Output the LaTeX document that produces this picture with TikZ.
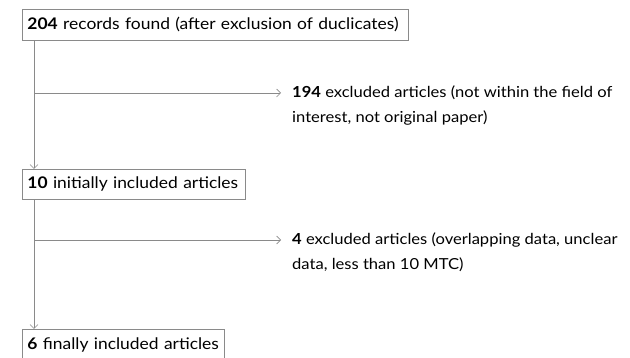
\documentclass[tikz,border=0pt]{standalone}
\usepackage{fontspec}
\setmainfont{Lato}[FakeStretch=1.09]
\usetikzlibrary{arrows.meta}
\definecolor{linegray}{HTML}{8A8A8A}
\tikzset{
  box/.style={draw=linegray, line width=0.9pt, anchor=north west, inner xsep=5pt, inner ysep=0pt,
    font=\fontsize{16}{25}\selectfont, text=black, align=left},
  note/.style={anchor=north west, inner sep=0pt, font=\fontsize{15.2}{24.5}\selectfont, text=black, align=left},
  conn/.style={draw=linegray, line width=0.9pt, -{Straight Barb[length=4pt,width=8pt,line width=0.7pt]}},
}
\begin{document}
\begin{tikzpicture}[x=1pt,y=-1pt]
\useasboundingbox (0,0) rectangle (630,358);
\clip (0,0) rectangle (630,358);
\node[box, minimum width=386pt, minimum height=31pt, text width=376pt] (b1) at (22,9) {\textbf{204} records found (after exclusion of duclicates)};
\node[box, minimum width=223pt, minimum height=30pt, text width=213pt] (b2) at (22,169) {\textbf{10} initially included articles};
\node[box, minimum width=202pt, minimum height=31pt, text width=192pt] (b3) at (22,329) {\textbf{6} finally included articles};
\node[note] (e1) at (292,86) {\textbf{194} excluded articles (not within the field of\\interest, not original paper)};
\node[note] (e2) at (292,233) {\textbf{4} excluded articles (overlapping data, unclear\\data, less than 10 MTC)};
\coordinate (j1) at (34,93);
\coordinate (j2) at (34,240);
\draw[conn] (b1.south west -| j1) -- (b2.north west -| j1);
\draw[conn] (b2.south west -| j2) -- (b3.north west -| j2);
\draw[conn, shorten >=11pt] (j1) -- (j1 -| e1.west);
\draw[conn, shorten >=11pt] (j2) -- (j2 -| e2.west);
\end{tikzpicture}
\end{document}
